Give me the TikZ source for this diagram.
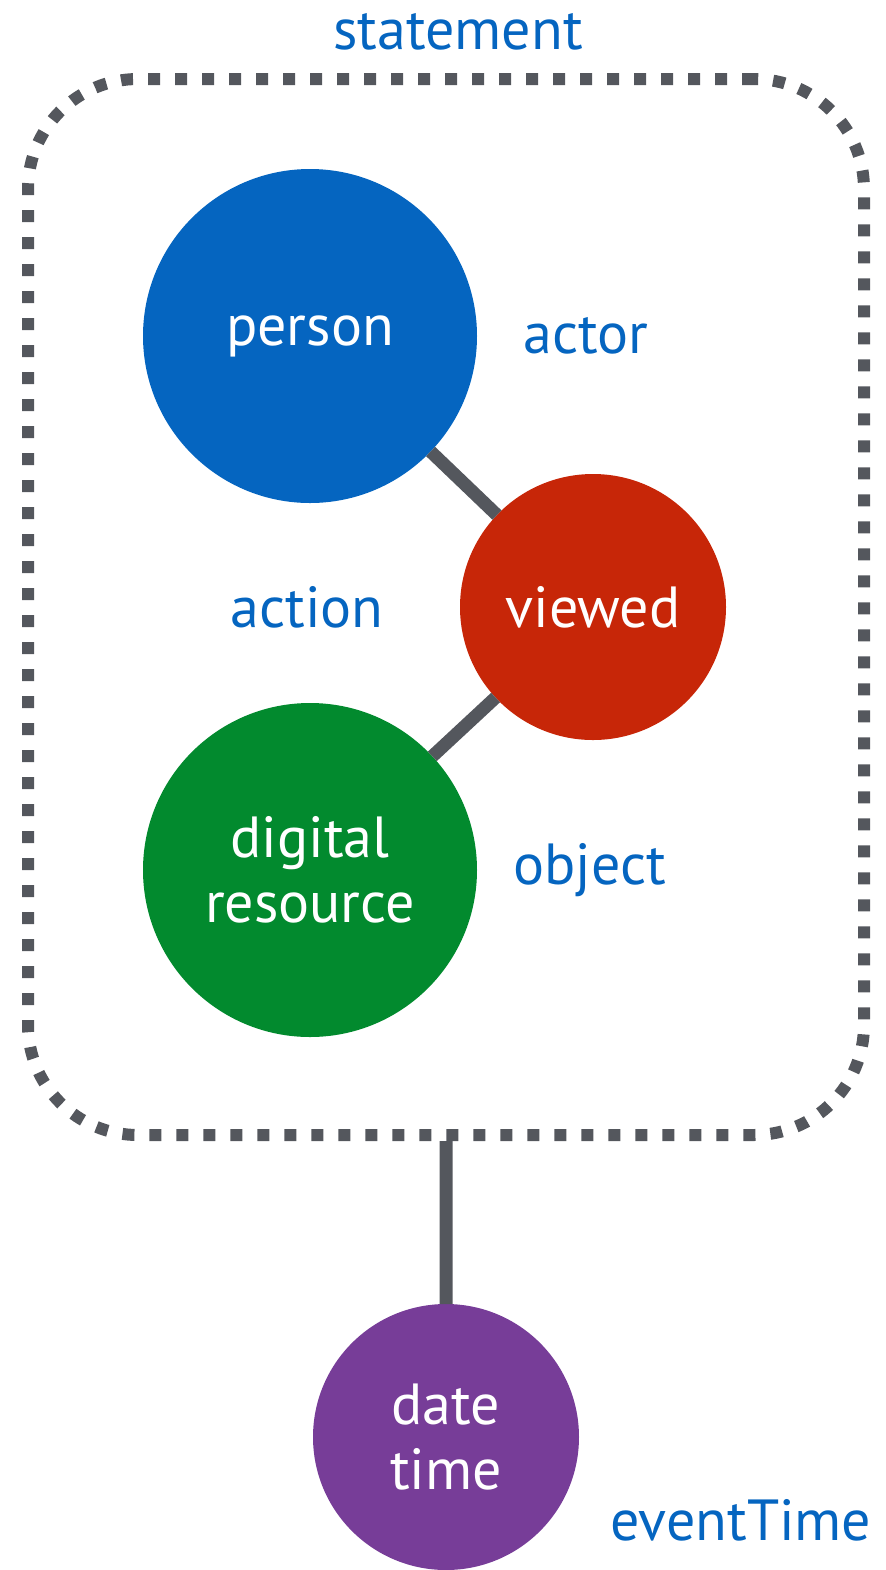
\documentclass[tikz,border=0pt]{standalone}
\usepackage{fontspec}
\setmainfont{PT Sans}
\usetikzlibrary{positioning}
\definecolor{roleblue}{HTML}{0565C0}
\definecolor{actionred}{HTML}{C72608}
\definecolor{objectgreen}{HTML}{028A2E}
\definecolor{timepurple}{HTML}{773D98}
\definecolor{linkgrey}{HTML}{54575D}

\begin{document}
\begin{tikzpicture}[x=0.5pt,y=-0.5pt,
    thing/.style={circle, inner sep=0pt, outer sep=0pt, text=white, align=center,
      font=\fontsize{29}{32.5}\selectfont},
    bigthing/.style={thing, minimum size=167pt},
    smallthing/.style={thing, minimum size=133pt},
    role/.style={text=roleblue, inner sep=0pt, font=\fontsize{29}{32}\selectfont},
    link/.style={draw=linkgrey, line width=6.5pt}]
    \useasboundingbox (0,0) rectangle (886,1570);
    % statement box
    \node[draw=linkgrey, line width=6pt, dash pattern=on 6pt off 7.5pt,
      rounded corners=55pt, minimum width=418pt, minimum height=528pt] (stmt) at (446,607) {};
    \node[role] (stmtlabel) at (458,32) {statement};
    % things
    \node[bigthing, fill=roleblue] (person) at (310,336) {person};
    \node[smallthing, fill=actionred] (viewed) at (593,607) {viewed};
    \node[bigthing, fill=objectgreen] (resource) at (310,870) {digital\\resource};
    \node[smallthing, fill=timepurple] (datetime) at (446,1437) {date\\time};
    % roles
    \node[role] (actorlabel) [right=23pt of person] {actor};
    \node[role] (actionlabel) [left=38pt of viewed] {action};
    \node[role] (objectlabel) [right=18pt of resource] {object};
    \node[role] (timelabel) at (741,1520) {eventTime};
    % links
    \path[link]
      (person) -- (viewed)
      (viewed) -- (resource)
      (stmt.south) -- (datetime);
\end{tikzpicture}
\end{document}
